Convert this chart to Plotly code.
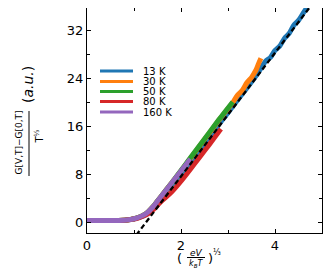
import plotly.graph_objects as go

# ---------------- data ----------------
labels = ["13 K", "30 K", "50 K", "80 K", "160 K"]
colors = ["#1f77b4", "#ff7f0e", "#2ca02c", "#d62728", "#9467bd"]

x13 = [0, 0.4, 0.8, 0.9, 1.0, 1.1, 1.2, 1.3, 1.4, 1.5, 1.6, 1.8, 2.0, 2.2, 2.4, 2.6, 2.8, 3.0, 3.2,
       3.4, 3.6, 3.7, 3.8, 3.9, 4.0, 4.1, 4.2, 4.3, 4.4, 4.5, 4.6, 4.7]
y13 = [0.25, 0.25, 0.3, 0.38, 0.5, 0.72, 1.0, 1.45, 2.2, 3.1, 4.1, 6.1, 8.0, 10.0, 12.1, 14.1, 16.2, 18.2, 20.3,
       22.3, 24.4, 25.6, 26.8, 27.4, 28.6, 29.3, 30.6, 31.4, 32.8, 33.6, 34.8, 36.0]

x30 = [0, 0.4, 0.8, 0.9, 1.0, 1.1, 1.2, 1.3, 1.4, 1.5, 1.6, 1.8, 2.0, 2.2, 2.4, 2.6, 2.8, 3.0, 3.1,
       3.2, 3.3, 3.4, 3.5, 3.55, 3.6, 3.65, 3.7]
y30 = [0.25, 0.25, 0.3, 0.4, 0.55, 0.8, 1.15, 1.7, 2.5, 3.5, 4.5, 6.5, 8.5, 10.6, 12.7, 14.8, 16.9, 18.9, 19.9,
       21.1, 21.9, 23.2, 24.1, 24.7, 25.4, 26.4, 27.3]

x50 = [0, 0.4, 0.8, 0.9, 1.0, 1.1, 1.2, 1.3, 1.4, 1.5, 1.6, 1.8, 2.0, 2.2, 2.4, 2.6, 2.8, 2.9, 3.0, 3.1]
y50 = [0.25, 0.25, 0.3, 0.4, 0.55, 0.8, 1.15, 1.7, 2.5, 3.5, 4.5, 6.5, 8.6, 10.7, 12.8, 14.9, 17.0, 18.0, 19.0, 20.0]

x80 = [0, 0.4, 0.8, 0.9, 1.0, 1.1, 1.2, 1.3, 1.4, 1.5, 1.6, 1.8, 2.0, 2.2, 2.4, 2.6, 2.8, 2.85]
y80 = [0.25, 0.25, 0.3, 0.38, 0.5, 0.7, 1.0, 1.4, 2.0, 2.8, 3.6, 5.0, 6.8, 8.8, 10.85, 12.9, 15.0, 15.5]

x160 = [0, 0.4, 0.8, 0.9, 1.0, 1.1, 1.2, 1.3, 1.4, 1.5, 1.6, 1.7, 1.8, 2.0, 2.1, 2.2]
y160 = [0.25, 0.25, 0.3, 0.4, 0.55, 0.8, 1.15, 1.7, 2.5, 3.5, 4.5, 5.5, 6.5, 8.5, 9.5, 10.5]

fit_x = [1.05, 4.75]
fit_y = [-2.16, 35.9]

x_ticks = [0, 2, 4]
y_ticks = [0, 8, 16, 24, 32]

series_x = [x13, x30, x50, x80, x160]
series_y = [y13, y30, y50, y80, y160]

# ---------------- figure ----------------
# the page body adds an 8 px margin; positions below are given in page pixels
OFF = 8
W, H = 332 - OFF, 274 - OFF
L_pg, R_pg, T_pg, B_pg = 87, 322, 8, 233
FONT = "DejaVu Sans"


def px(xp):
    return (xp - L_pg) / (R_pg - L_pg)


def py(yp):
    return (B_pg - yp) / (B_pg - T_pg)


fig = go.Figure()
for xs, ys, c, lab in zip(series_x, series_y, colors, labels):
    fig.add_trace(go.Scatter(x=xs, y=ys, mode="lines", name=lab,
                             line=dict(color=c, width=5, shape="spline", smoothing=0.6),
                             showlegend=False))
fig.add_trace(go.Scatter(x=fit_x, y=fit_y, mode="lines", showlegend=False,
                         line=dict(color="black", width=2.3, dash="5px,3px")))

axis_common = dict(showline=True, linecolor="black", linewidth=1, mirror="allticks",
                   ticks="inside", ticklen=4, tickcolor="black", showgrid=False,
                   zeroline=False, tickfont=dict(family=FONT, size=13, color="black"))

fig.update_xaxes(range=[0, 5], tickvals=x_ticks,
                 minor=dict(tickvals=[1, 3], ticks="inside", ticklen=3, tickcolor="black"),
                 **axis_common)
fig.update_yaxes(range=[-1.83, 35.67], tickvals=y_ticks,
                 minor=dict(tickvals=[4, 12, 20, 28], ticks="inside", ticklen=3, tickcolor="black"),
                 **axis_common)

shapes = []
annots = []


def txt(text, xp, yp, size, angle=0, anchor="center"):
    annots.append(dict(text=text, xref="paper", yref="paper", x=px(xp), y=py(yp),
                       textangle=angle, showarrow=False, xanchor=anchor, yanchor="middle",
                       font=dict(family=FONT, size=size, color="black")))


# manual legend
leg_y = [71, 81.5, 91.5, 101.5, 112]
for lab, c, yy in zip(labels, colors, leg_y):
    shapes.append(dict(type="line", xref="paper", yref="paper", x0=px(100), x1=px(133),
                       y0=py(yy), y1=py(yy), line=dict(color=c, width=3)))
    txt(lab, 141, yy, 10, anchor="left")

# y-axis title: fraction + (a.u.)
txt("G[V,T]\u2212G[0,T]", 18.5, 143, 9, angle=-90)
shapes.append(dict(type="line", xref="paper", yref="paper", x0=px(29), x1=px(29),
                   y0=py(111), y1=py(176), line=dict(color="black", width=1)))
txt("T<sup>\u2153</sup>", 38.5, 137, 10, angle=-90)
txt("(<i>a.u.</i>)", 28, 85, 14, angle=-90)

# x-axis title: (eV / k_B T)^(1/3)
txt("(", 179.5, 258.5, 13)
txt("<i>eV</i>", 196, 252.5, 9)
shapes.append(dict(type="line", xref="paper", yref="paper", x0=px(187), x1=px(205),
                   y0=py(257.5), y1=py(257.5), line=dict(color="black", width=1)))
txt("<i>k<sub>B</sub>T</i>", 196, 263.5, 8)
txt(")", 210.5, 258.5, 13)
txt("\u2153", 217, 252, 8)

fig.update_layout(width=W, height=H,
                  margin=dict(l=L_pg - OFF, r=W - (R_pg - OFF), t=T_pg - OFF, b=H - (B_pg - OFF)),
                  paper_bgcolor="white", plot_bgcolor="white",
                  shapes=shapes, annotations=annots, showlegend=False)

fig.write_html("out.html")
